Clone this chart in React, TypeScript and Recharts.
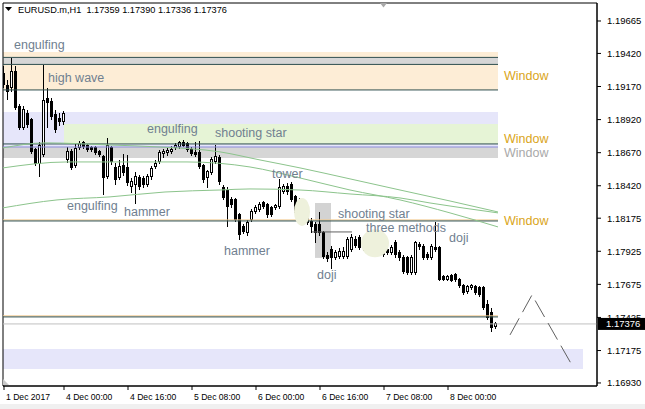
import React from 'react';
import {
  ComposedChart,
  Bar,
  Line,
  XAxis,
  YAxis,
  ReferenceArea,
  ReferenceLine,
  ReferenceDot,
} from 'recharts';

const FONT = '"Liberation Sans", Arial, sans-serif';

// ---- OHLC (EURUSD H1, bar 0 = 1 Dec 2017 09:00) ----
const opens = [
  1.19272, 1.19174, 1.19159, 1.1928, 1.19016, 1.18864, 1.18963, 1.18917, 1.18691, 1.18592,
  1.18653, 1.19076, 1.19053, 1.18955, 1.18932, 1.18902, 1.18615, 1.18676, 1.1857, 1.18706,
  1.18744, 1.18721, 1.18706, 1.18706, 1.18676, 1.18638, 1.18487, 1.18706, 1.18555, 1.18479,
  1.1857, 1.18555, 1.18411, 1.18426, 1.18479, 1.18472, 1.18426, 1.18487, 1.18562, 1.186,
  1.18661, 1.18668, 1.18676, 1.18706, 1.18713, 1.18744, 1.18736, 1.18691, 1.18668, 1.18668,
  1.1857, 1.18479, 1.18517, 1.186, 1.1863, 1.18404, 1.18388, 1.18313, 1.18313, 1.182,
  1.18109, 1.18064, 1.18162, 1.18222, 1.18237, 1.1829, 1.18275, 1.18253, 1.18253, 1.1826,
  1.18373, 1.18411, 1.18426, 1.18336, 1.18253, 1.18215, 1.1826, 1.18147, 1.18124, 1.18124,
  1.18064, 1.1789, 1.17935, 1.17875, 1.17882, 1.17882, 1.17882, 1.17935, 1.18011, 1.18026,
  1.1795, 1.17973, 1.17973, 1.17973, 1.18034, 1.17973, 1.17935, 1.17913, 1.17988, 1.17913,
  1.17875, 1.17875, 1.17761, 1.17761, 1.17973, 1.17958, 1.17897, 1.17875, 1.1795, 1.1795,
  1.17731, 1.17709, 1.17739, 1.17746, 1.17709, 1.17663, 1.17618, 1.17648, 1.17656, 1.17648,
  1.17648, 1.1752, 1.17459, 1.17359,
];
const highs = [
  1.19325, 1.1922, 1.19386, 1.19325, 1.19038, 1.19023, 1.18993, 1.18932, 1.18706, 1.18751,
  1.19333, 1.19159, 1.19084, 1.18993, 1.1897, 1.18985, 1.18713, 1.18698, 1.18736, 1.18759,
  1.18759, 1.18736, 1.18721, 1.18721, 1.18691, 1.18653, 1.18781, 1.18721, 1.18592, 1.18615,
  1.18661, 1.18653, 1.18479, 1.18525, 1.18502, 1.18494, 1.1851, 1.1857, 1.18615, 1.18691,
  1.18698, 1.18706, 1.18721, 1.18744, 1.18759, 1.18766, 1.18751, 1.18713, 1.18751, 1.18759,
  1.18585, 1.1854, 1.18638, 1.18728, 1.18653, 1.18426, 1.18411, 1.18336, 1.18328, 1.18215,
  1.18132, 1.18162, 1.18245, 1.18275, 1.18298, 1.18305, 1.1829, 1.18268, 1.18283, 1.18472,
  1.18434, 1.18441, 1.18449, 1.18351, 1.18328, 1.18313, 1.18283, 1.18177, 1.18147, 1.18222,
  1.18079, 1.1792, 1.17966, 1.17935, 1.1795, 1.17958, 1.18034, 1.18056, 1.18041, 1.18049,
  1.17996, 1.18041, 1.18019, 1.18056, 1.18049, 1.17988, 1.17958, 1.17973, 1.18011, 1.17935,
  1.17897, 1.1789, 1.17897, 1.18003, 1.17996, 1.17981, 1.1792, 1.17981, 1.18147, 1.17966,
  1.17746, 1.17746, 1.17754, 1.17761, 1.17724, 1.17678, 1.17671, 1.17678, 1.17671, 1.17663,
  1.17663, 1.17557, 1.17497, 1.1739,
];
const lows = [
  1.19159, 1.19068, 1.19129, 1.18993, 1.18842, 1.18842, 1.18857, 1.18661, 1.1857, 1.18487,
  1.18638, 1.18857, 1.18917, 1.18819, 1.18872, 1.1888, 1.18592, 1.1854, 1.18555, 1.18691,
  1.18698, 1.18676, 1.18676, 1.18653, 1.18638, 1.18351, 1.18472, 1.18577, 1.18426, 1.18464,
  1.18494, 1.18419, 1.18366, 1.18283, 1.18388, 1.18404, 1.18411, 1.18464, 1.18547, 1.18585,
  1.1863, 1.18645, 1.18661, 1.18691, 1.18698, 1.18713, 1.18676, 1.18645, 1.18638, 1.18547,
  1.18441, 1.18404, 1.18502, 1.18585, 1.18426, 1.18313, 1.18109, 1.18253, 1.18147, 1.18011,
  1.18056, 1.18041, 1.18147, 1.18207, 1.18222, 1.18245, 1.18177, 1.18185, 1.18237, 1.18245,
  1.18358, 1.18351, 1.18298, 1.18192, 1.18222, 1.182, 1.18124, 1.18064, 1.17988, 1.18041,
  1.17867, 1.17845, 1.17792, 1.1786, 1.17867, 1.17867, 1.17867, 1.1792, 1.1795, 1.17935,
  1.17928, 1.17958, 1.17958, 1.17958, 1.17943, 1.17882, 1.17897, 1.17897, 1.17875, 1.17852,
  1.17754, 1.17746, 1.17746, 1.17746, 1.17935, 1.1786, 1.1786, 1.1786, 1.1792, 1.17701,
  1.17701, 1.17701, 1.17694, 1.17694, 1.17648, 1.17595, 1.17603, 1.17633, 1.17595, 1.1758,
  1.17482, 1.17406, 1.17316, 1.17336,
];
const closes = [
  1.19182, 1.19129, 1.1928, 1.19008, 1.18864, 1.19, 1.1888, 1.18676, 1.18592, 1.18728,
  1.19068, 1.19046, 1.1894, 1.18842, 1.18902, 1.18963, 1.18676, 1.18555, 1.18698, 1.18736,
  1.18713, 1.18691, 1.18691, 1.18668, 1.18653, 1.18479, 1.18728, 1.186, 1.18464, 1.18562,
  1.18517, 1.18441, 1.18449, 1.18487, 1.18411, 1.18426, 1.18487, 1.18547, 1.18585, 1.18668,
  1.18676, 1.18683, 1.18691, 1.18721, 1.18744, 1.18728, 1.18691, 1.18661, 1.18653, 1.18562,
  1.18464, 1.18525, 1.18615, 1.18638, 1.18449, 1.18328, 1.1826, 1.18275, 1.18162, 1.18049,
  1.18071, 1.18139, 1.18222, 1.18253, 1.18275, 1.1826, 1.182, 1.182, 1.18268, 1.18404,
  1.18411, 1.18373, 1.18313, 1.18215, 1.1829, 1.18275, 1.18139, 1.18109, 1.18064, 1.18064,
  1.17882, 1.17867, 1.17875, 1.17913, 1.1792, 1.1792, 1.18011, 1.18026, 1.17966, 1.1795,
  1.17973, 1.18026, 1.17996, 1.18034, 1.17958, 1.17897, 1.17913, 1.1795, 1.17897, 1.17875,
  1.17769, 1.17761, 1.17875, 1.17988, 1.17958, 1.17875, 1.17875, 1.17958, 1.17935, 1.17709,
  1.17709, 1.17731, 1.17701, 1.17709, 1.17663, 1.17611, 1.17656, 1.17663, 1.17611, 1.17595,
  1.17497, 1.17421, 1.17346, 1.17376,
];

const candles = opens.map((o, i) => ({ i, open: o, high: highs[i], low: lows[i], close: closes[i] }));
const lastClose = closes[closes.length - 1];

// ---- axes ----
const xTicks = [0, 15, 31, 47, 63, 79, 95, 111];
const xTickLabels = ['1 Dec 2017', '4 Dec 00:00', '4 Dec 16:00', '5 Dec 08:00', '6 Dec 00:00', '6 Dec 16:00', '7 Dec 08:00', '8 Dec 00:00'];
const yTicks = [1.19665, 1.1942, 1.1917, 1.1892, 1.1867, 1.1842, 1.18175, 1.17925, 1.17675, 1.17425, 1.17175, 1.1693];
const X_DOMAIN = [-0.25, 148.25];
const Y_DOMAIN = [1.16907, 1.19801];

// ---- moving averages (read at sparse points) ----
const maA = [
  { i: -0.25, v: 1.18706 }, { i: 10.25, v: 1.18744 }, { i: 26.5, v: 1.18728 }, { i: 39, v: 1.18713 },
  { i: 54, v: 1.18676 }, { i: 64, v: 1.18615 }, { i: 74, v: 1.18555 }, { i: 86.5, v: 1.18472 },
  { i: 99, v: 1.18388 }, { i: 111.5, v: 1.18305 }, { i: 123.5, v: 1.18222 },
];
const maB = [
  { i: -0.25, v: 1.18555 }, { i: 15.75, v: 1.186 }, { i: 29, v: 1.186 }, { i: 45.75, v: 1.186 },
  { i: 61.5, v: 1.18562 }, { i: 74, v: 1.18479 }, { i: 86.5, v: 1.18388 }, { i: 99, v: 1.18313 },
  { i: 111.5, v: 1.18215 }, { i: 123.5, v: 1.18109 },
];
const maC = [
  { i: -0.25, v: 1.18253 }, { i: 13.25, v: 1.18313 }, { i: 26.5, v: 1.18336 }, { i: 40.25, v: 1.18373 },
  { i: 54, v: 1.18388 }, { i: 61.5, v: 1.18396 }, { i: 74, v: 1.18388 }, { i: 86.5, v: 1.18358 },
  { i: 99, v: 1.18328 }, { i: 106.5, v: 1.1829 }, { i: 123.5, v: 1.18215 },
];

// ---- projection zigzag ----
const projection = [
  { i: 126.5, v: 1.17293 },
  { i: 132, v: 1.17595 },
  { i: 142.25, v: 1.17051 },
];

// ---- window zones (bar index range, price range) ----
const peachZone = { x1: -0.25, x2: 123.5, y1: 1.19144, y2: 1.19431 };
const grayTopZone = { x1: -0.25, x2: 123.5, y1: 1.19337, y2: 1.1939 };
const lavenderZone = { x1: -0.25, x2: 123.5, y1: 1.18713, y2: 1.18978 };
const greenZone = { x1: 15, x2: 123.5, y1: 1.18736, y2: 1.18887 };
const grayMidZone = { x1: -0.25, x2: 123.5, y1: 1.1863, y2: 1.18713 };
const lavenderLowZone = { x1: -0.25, x2: 144.75, y1: 1.17036, y2: 1.17187 };
const dojiZone = { x1: 77.75, x2: 81.75, y1: 1.17875, y2: 1.1829 };
const darkLines = [1.1939, 1.19337, 1.19144, 1.18736, 1.18154, 1.17429];
const tanLines = [1.18162, 1.17437];
const blueLine = 1.18713;
const methodsLine = { x1: 77, x2: 87, y: 1.18071 };
const blobs = [
  { i: 74.5, v: 1.18222, rx: 8, ry: 14 },
  { i: 92.75, v: 1.17985, rx: 14, ry: 14 },
];

// ---- text annotations ----
const patternLabels = [
  { text: 'engulfing', i: 2.5, v: 1.19454 },
  { text: 'high wave', i: 11, v: 1.19201 },
  { text: 'engulfing', i: 35.75, v: 1.18819 },
  { text: 'shooting star', i: 52.75, v: 1.18789 },
  { text: 'engulfing', i: 15.75, v: 1.18237 },
  { text: 'hammer', i: 30, v: 1.18192 },
  { text: 'tower', i: 67, v: 1.18479 },
  { text: 'hammer', i: 55, v: 1.17897 },
  { text: 'shooting star', i: 83.5, v: 1.18177 },
  { text: 'three methods', i: 90.5, v: 1.18071 },
  { text: 'doji', i: 78.25, v: 1.17716 },
  { text: 'doji', i: 111.25, v: 1.17996 },
];
const windowLabels = [
  { i: 125, v: 1.1922, gray: false },
  { i: 125, v: 1.18744, gray: false },
  { i: 125, v: 1.18638, gray: true },
  { i: 125, v: 1.18124, gray: false },
];

const CandleShape = (props: any) => {
  const { x, y, width, height, payload } = props;
  if (!payload || x == null || y == null) return null;
  const top = Math.min(y, y + height);
  const bot = Math.max(y, y + height);
  const { open, close, high, low } = payload;
  const span = high - low || 1e-9;
  const py = (v: number) => top + ((high - v) / span) * (bot - top);
  const cx = Math.floor(x + width / 2) + 0.5;
  const yo = py(open);
  const yc = py(close);
  const bull = close >= open;
  const bt = Math.min(yo, yc);
  const bb = Math.max(yo, yc);
  return (
    <g shapeRendering="crispEdges">
      <line x1={cx} x2={cx} y1={top} y2={bot} stroke="#000" strokeWidth={1} />
      <rect x={cx - 1} y={bt} width={2} height={Math.max(bb - bt, 0.5)} fill={bull ? '#fff' : '#000'} stroke="#000" strokeWidth={1} />
    </g>
  );
};

const XTick = (props: any) => {
  const { x, y, payload } = props;
  const idx = xTicks.indexOf(payload.value);
  return (
    <text x={x + 2} y={y + 8} textAnchor="start" fontFamily={FONT} fontSize={8.6} fill="#000">
      {idx >= 0 ? xTickLabels[idx] : ''}
    </text>
  );
};

const PriceTag = (props: any) => {
  const vb = props.viewBox || {};
  const right = (vb.x || 0) + (vb.width || 0);
  const yy = vb.y || 0;
  return (
    <g>
      <rect x={right + 1} y={yy - 6} width={48} height={12} fill="#000" />
      <text x={right + 9} y={yy + 3.5} fontFamily={FONT} fontSize={9.5} fill="#fff">
        {lastClose.toFixed(5)}
      </text>
    </g>
  );
};

export default function App() {
  return (
    <div style={{ position: 'absolute', left: 0, top: 0, width: 645, height: 409, background: '#fff', overflow: 'hidden' }}>
      <ComposedChart
        width={645}
        height={409}
        data={candles}
        margin={{ top: 3, right: 0, bottom: 0, left: 3 }}
      >
        <XAxis
          dataKey="i"
          type="number"
          domain={X_DOMAIN}
          allowDataOverflow
          ticks={xTicks}
          interval={0}
          height={23}
          tickSize={4}
          tickMargin={2}
          tick={<XTick />}
          stroke="#000"
          axisLine={{ stroke: '#000' }}
          tickLine={{ stroke: '#000' }}
        />
        <YAxis
          orientation="right"
          type="number"
          domain={Y_DOMAIN}
          allowDataOverflow
          ticks={yTicks}
          interval={0}
          width={48}
          tickSize={4}
          tickMargin={6}
          tickFormatter={(v: number) => v.toFixed(5)}
          tick={{ fontFamily: FONT, fontSize: 9.5, fill: '#000' }}
          axisLine={{ stroke: '#000' }}
          tickLine={{ stroke: '#000' }}
        />

        <ReferenceArea {...peachZone} fill="#fdedd6" fillOpacity={1} stroke="none" />
        <ReferenceArea {...grayTopZone} fill="#d6d6d6" fillOpacity={1} stroke="none" />
        <ReferenceArea {...lavenderZone} fill="#e6e6fa" fillOpacity={1} stroke="none" />
        <ReferenceArea {...greenZone} fill="#e6f4d6" fillOpacity={1} stroke="none" />
        <ReferenceArea {...grayMidZone} fill="#d6d6d6" fillOpacity={1} stroke="none" />
        <ReferenceArea {...lavenderLowZone} fill="#e6e6fa" fillOpacity={1} stroke="none" />
        <ReferenceArea {...dojiZone} fill="#d3d3d3" fillOpacity={1} stroke="none" />

        {blobs.map((b, k) => (
          <ReferenceDot
            key={'blob' + k}
            x={b.i}
            y={b.v}
            r={1}
            shape={(p: any) => <ellipse cx={p.cx} cy={p.cy} rx={b.rx} ry={b.ry} fill="#eef1dc" />}
          />
        ))}

        {tanLines.map((v, k) => (
          <ReferenceLine key={'tan' + k} segment={[{ x: -0.25, y: v }, { x: 123.5, y: v }]} stroke="#f2c98e" strokeWidth={1} />
        ))}
        {darkLines.map((v, k) => (
          <ReferenceLine key={'dk' + k} segment={[{ x: -0.25, y: v }, { x: 123.5, y: v }]} stroke="#2f4f4f" strokeWidth={1} />
        ))}
        <ReferenceLine segment={[{ x: -0.25, y: blueLine }, { x: 123.5, y: blueLine }]} stroke="#8a8ad8" strokeWidth={1} />
        <ReferenceLine segment={[{ x: methodsLine.x1, y: methodsLine.y }, { x: methodsLine.x2, y: methodsLine.y }]} stroke="#606060" strokeWidth={1} />

        <ReferenceLine y={lastClose} stroke="#c0c0c0" strokeWidth={1} label={<PriceTag />} />

        <Line data={maA} dataKey="v" type="monotone" stroke="#8cc48c" strokeWidth={1} dot={false} isAnimationActive={false} />
        <Line data={maB} dataKey="v" type="monotone" stroke="#8cc48c" strokeWidth={1} dot={false} isAnimationActive={false} />
        <Line data={maC} dataKey="v" type="monotone" stroke="#8cc48c" strokeWidth={1} dot={false} isAnimationActive={false} />

        <Bar
          dataKey={(d: any) => [d.low, d.high]}
          barSize={4}
          shape={<CandleShape />}
          isAnimationActive={false}
        />

        <Line data={projection} dataKey="v" type="linear" stroke="#606060" strokeWidth={1} strokeDasharray="19 7" dot={false} isAnimationActive={false} />

        {patternLabels.map((l, k) => (
          <ReferenceDot
            key={'pl' + k}
            x={l.i}
            y={l.v}
            r={1}
            shape={(p: any) => (
              <text x={p.cx} y={p.cy} fontFamily={FONT} fontSize={12.5} fill="#708090">
                {l.text}
              </text>
            )}
          />
        ))}
        {windowLabels.map((l, k) => (
          <ReferenceDot
            key={'wl' + k}
            x={l.i}
            y={l.v}
            r={1}
            shape={(p: any) => (
              <text x={p.cx} y={p.cy} fontFamily={FONT} fontSize={12.5} fill={l.gray ? '#a9a9a9' : '#daa520'}>
                Window
              </text>
            )}
          />
        ))}

        <ReferenceArea x1={X_DOMAIN[0]} x2={X_DOMAIN[1]} y1={Y_DOMAIN[0]} y2={Y_DOMAIN[1]} fill="none" fillOpacity={0} stroke="#000" strokeWidth={1} />
      </ComposedChart>

      <svg width={645} height={409} style={{ position: 'absolute', left: 0, top: 0, pointerEvents: 'none' }}>
        <polygon points="5,7 12,7 8.5,11" fill="#000" />
        <polygon points="380,3 387,3 383.5,7.5" fill="#a8a8a8" />
        <polygon points="3,379 3,385 9,385" fill="#c8c8c8" />
        <rect x={0} y={404} width={645} height={5} fill="#f0f0f0" />
      </svg>
      <div
        style={{
          position: 'absolute',
          left: 18,
          top: 4,
          fontFamily: FONT,
          fontSize: 9.2,
          color: '#000',
          whiteSpace: 'pre',
          lineHeight: '12px',
        }}
      >
        {'EURUSD.m,H1  1.17359 1.17390 1.17336 1.17376'}
      </div>
    </div>
  );
}
